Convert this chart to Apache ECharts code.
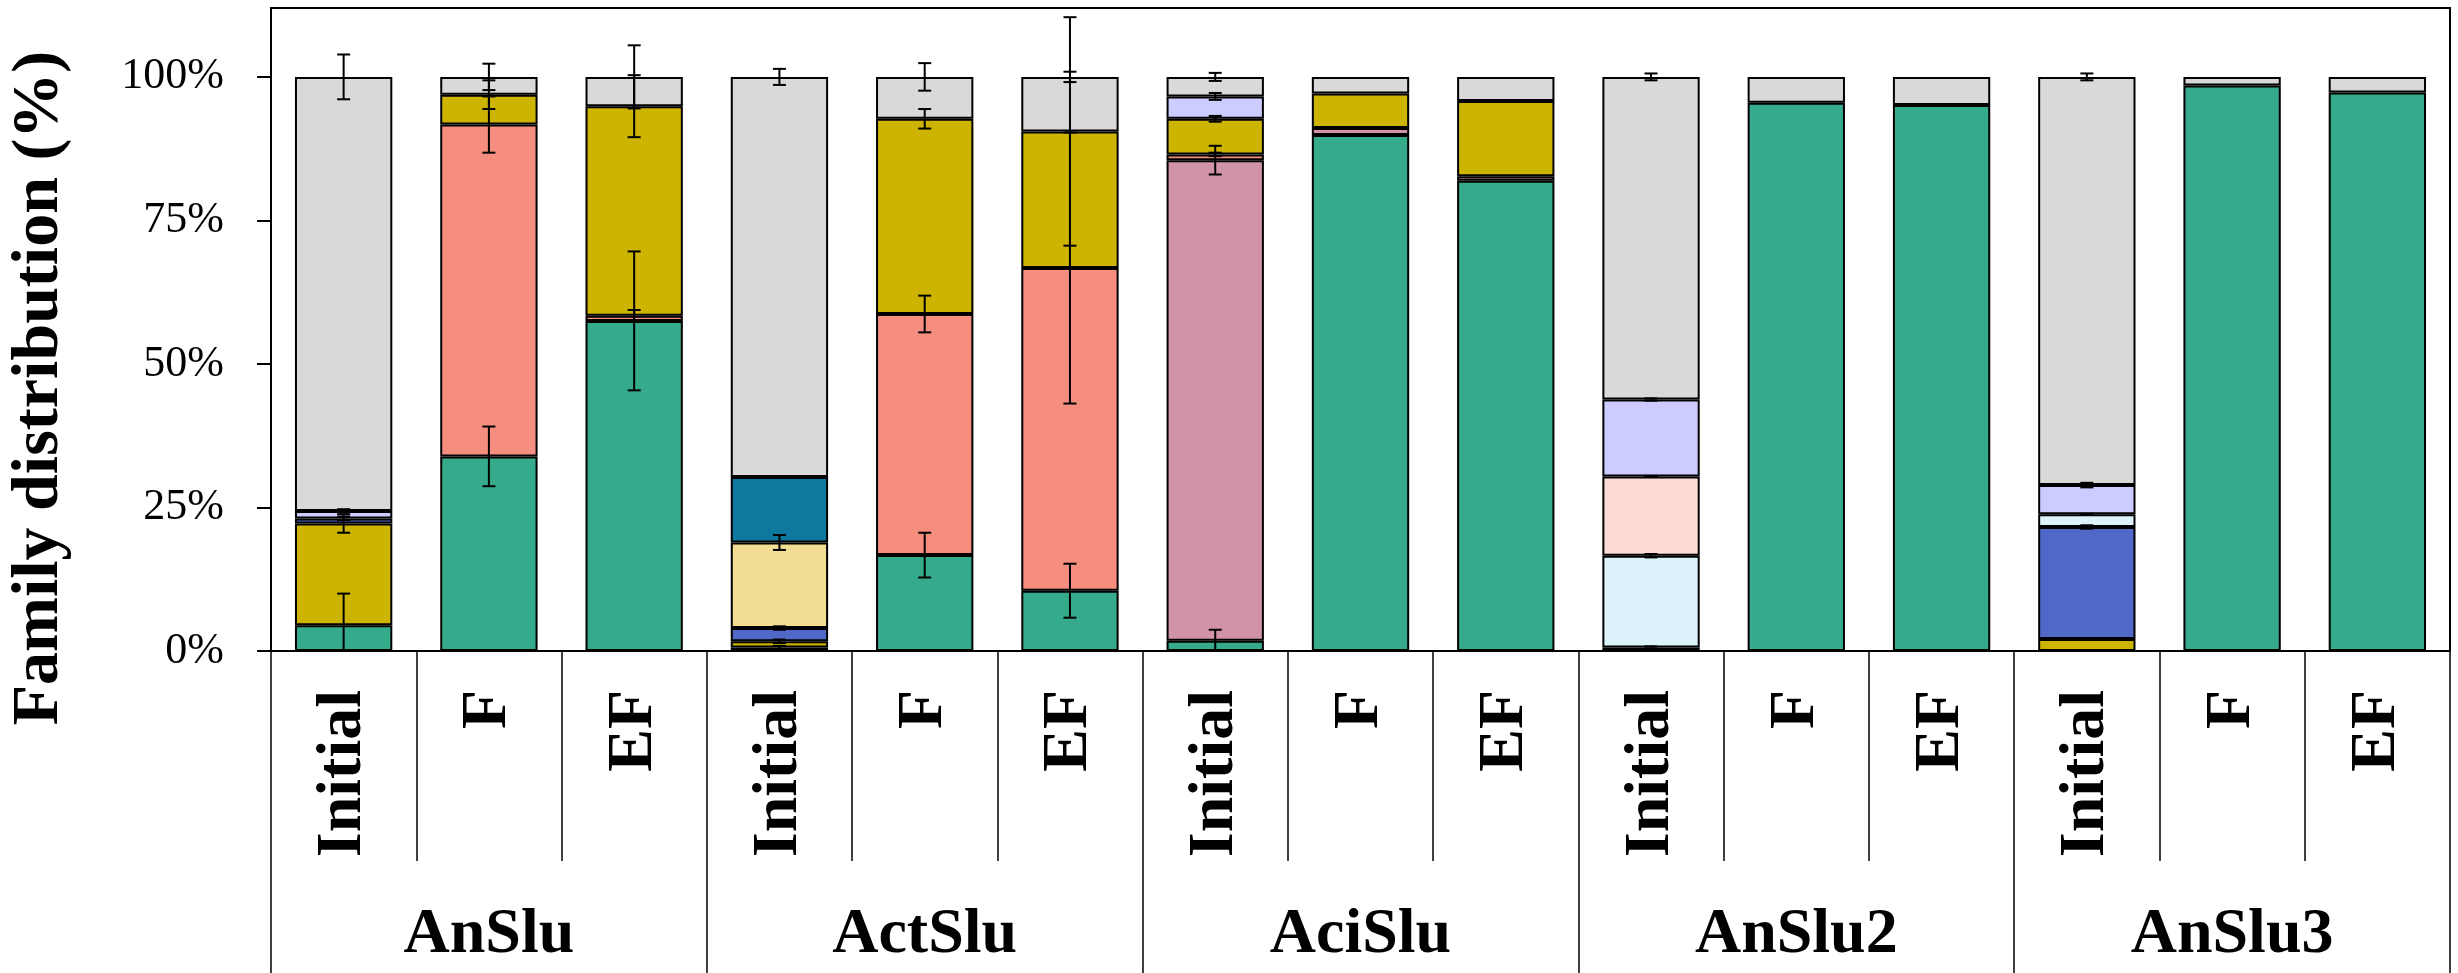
<!DOCTYPE html>
<html lang="en">
<head>
    <meta charset="UTF-8">
    <title>Family distribution</title>
    <script src="https://cdn.jsdelivr.net/npm/echarts@6/dist/echarts.min.js"></script>
    <style>
        html, body { margin: 0; padding: 0; background: #fff; }
    </style>
</head>
<body>
    <div id="myChart" style="width: 2458px;height: 973px;"></div>

    <script>
        // categories: 5 sludges x 3 stages
        const stages = ['Initial', 'F', 'EF', 'Initial', 'F', 'EF', 'Initial', 'F', 'EF', 'Initial', 'F', 'EF', 'Initial', 'F', 'EF'];
        const groups = ['AnSlu', 'ActSlu', 'AciSlu', 'AnSlu2', 'AnSlu3'];
        const yTicks = [0, 25, 50, 75, 100];

        // segment sizes (%), bottom to top
        const green    = [4.5, 33.9, 57.5, 0.6, 16.7, 10.5, 1.8, 89.9, 81.9, 0.6, 95.5, 95.1, 0, 98.5, 97.3];
        const pink     = [0, 0, 0, 0, 0, 0, 83.7, 1.2, 0.8, 0, 0, 0, 0, 0, 0];
        const salmon   = [0, 57.8, 0.9, 0, 42.0, 56.2, 1.0, 0, 0, 0, 0, 0, 0, 0, 0];
        const olive    = [17.7, 5.2, 36.5, 1.1, 34.0, 23.8, 6.2, 6.0, 13.1, 0, 0, 0, 2.1, 0, 0];
        const blue     = [0.9, 0, 0, 2.3, 0, 0, 0, 0, 0, 0, 0, 0, 19.5, 0, 0];
        const lyellow  = [0, 0, 0, 14.9, 0, 0, 0, 0, 0, 0, 0, 0, 0, 0, 0];
        const dteal    = [0, 0, 0, 11.4, 0, 0, 0, 0, 0, 0, 0, 0, 0, 0, 0];
        const lcyan    = [0, 0, 0, 0, 0, 0, 0, 0, 0, 16.0, 0, 0, 2.2, 0, 0];
        const lpink    = [0, 0, 0, 0, 0, 0, 0, 0, 0, 13.8, 0, 0, 0, 0, 0];
        const lavender = [1.3, 0, 0, 0, 0, 0, 3.9, 0, 0, 13.4, 0, 0, 5.1, 0, 0];
        const gray     = [75.6, 3.1, 5.1, 69.7, 7.3, 9.5, 3.4, 2.9, 4.2, 56.2, 4.5, 4.9, 71.1, 1.5, 2.7];

        // error (+/-) at the top of each segment, null = no bar
        const greenErr    = [5.5, 5.2, 12.1, 0.3, 3.9, 4.7, 1.9, null, null, 0.2, null, null, null, null, null];
        const pinkErr     = [null, null, null, null, null, null, 2.5, null, null, null, null, null, null, null, null];
        const salmonErr   = [null, 4.9, 1.0, null, 3.2, 23.6, 0.3, null, null, null, null, null, null, null, null];
        const oliveErr    = [1.6, 2.5, 5.4, 0.3, 1.7, 19.9, 0.5, null, null, null, null, null, null, null, null];
        const blueErr     = [0.3, null, null, 0.3, null, null, null, null, null, null, null, null, 0.3, null, null];
        const lyellowErr  = [null, null, null, 1.3, null, null, null, null, null, null, null, null, null, null, null];
        const dtealErr    = [null, null, null, null, null, null, null, null, null, null, null, null, null, null, null];
        const lcyanErr    = [null, null, null, null, null, null, null, null, null, 0.3, null, null, 0.1, null, null];
        const lpinkErr    = [null, null, null, null, null, null, null, null, null, 0.1, null, null, null, null, null];
        const lavenderErr = [0.3, null, null, null, null, null, 0.6, null, null, 0.2, null, null, 0.4, null, null];
        const grayErr     = [3.9, 2.3, 5.5, 1.4, 2.4, 0.9, 0.7, null, null, 0.6, null, null, 0.6, null, null];

        const families = [
            { name: 'F1', color: '#35AB8C', data: green, err: greenErr },
            { name: 'F2', color: '#D193A7', data: pink, err: pinkErr },
            { name: 'F3', color: '#F68E80', data: salmon, err: salmonErr },
            { name: 'F4', color: '#CDB400', data: olive, err: oliveErr },
            { name: 'F5', color: '#5068C8', data: blue, err: blueErr },
            { name: 'F6', color: '#F1DE93', data: lyellow, err: lyellowErr },
            { name: 'F7', color: '#0E789E', data: dteal, err: dtealErr },
            { name: 'F8', color: '#DDF3FB', data: lcyan, err: lcyanErr },
            { name: 'F9', color: '#FCDBD6', data: lpink, err: lpinkErr },
            { name: 'F10', color: '#CCCCFF', data: lavender, err: lavenderErr },
            { name: 'Others', color: '#D9D9D9', data: gray, err: grayErr }
        ];

        const serif = '"Liberation Serif", "Times New Roman", serif';

        // error bar points: [category index, stacked top, error]
        const errPoints = [];
        const running = stages.map(() => 0);
        families.forEach(f => {
            f.data.forEach((v, i) => {
                running[i] += v;
                if (f.err[i] != null) errPoints.push([i, running[i], f.err[i]]);
            });
        });

        const barSeries = families.map(f => ({
            name: f.name,
            type: 'bar',
            stack: 'total',
            barWidth: '67%',
            itemStyle: { color: f.color, borderColor: '#000', borderWidth: 2 },
            emphasis: { disabled: true },
            data: f.data.map(v => v === 0 ? '-' : v)
        }));

        const errSeries = {
            type: 'custom',
            clip: true,
            z: 10,
            data: errPoints,
            renderItem: function (params, api) {
                const x = api.value(0);
                const top = api.coord([x, api.value(1) + api.value(2)]);
                const bot = api.coord([x, api.value(1) - api.value(2)]);
                const hw = 6.5;
                const st = { stroke: '#000', lineWidth: 2 };
                return {
                    type: 'group',
                    children: [
                        { type: 'line', shape: { x1: top[0], y1: top[1], x2: bot[0], y2: bot[1] }, style: st },
                        { type: 'line', shape: { x1: top[0] - hw, y1: top[1], x2: top[0] + hw, y2: top[1] }, style: st },
                        { type: 'line', shape: { x1: bot[0] - hw, y1: bot[1], x2: bot[0] + hw, y2: bot[1] }, style: st }
                    ]
                };
            }
        };

        const chart = echarts.init(document.getElementById('myChart'));
        const option = {
            animation: false,
            backgroundColor: '#fff',
            textStyle: { fontFamily: serif, color: '#000' },
            grid: {
                left: 271, right: 8, top: 8, bottom: 322,
                containLabel: false,
                outerBoundsMode: 'none',
                show: true,
                borderColor: '#000',
                borderWidth: 2,
                backgroundColor: 'transparent'
            },
            tooltip: { show: false },
            xAxis: [
                {
                    type: 'category',
                    position: 'bottom',
                    data: stages,
                    boundaryGap: true,
                    axisLine: { show: true, lineStyle: { color: '#000', width: 2 } },
                    axisTick: { show: true, interval: 0, alignWithLabel: false, inside: false, length: 210, lineStyle: { color: '#000', width: 1.5 } },
                    axisLabel: {
                        interval: 0, rotate: 90, margin: 39,
                        fontFamily: serif, fontSize: 64, fontWeight: 'bold', color: '#000'
                    },
                    splitLine: { show: false }
                },
                {
                    type: 'category',
                    position: 'bottom',
                    data: groups,
                    boundaryGap: true,
                    axisLine: { show: false },
                    axisTick: { show: true, interval: 0, length: 322, lineStyle: { color: '#000', width: 1.5 } },
                    axisLabel: {
                        interval: 0, margin: 284, verticalAlign: 'middle',
                        fontFamily: serif, fontSize: 64, fontWeight: 'bold', color: '#000'
                    },
                    splitLine: { show: false }
                }
            ],
            yAxis: {
                type: 'value',
                min: 0,
                max: 112,
                interval: 25,
                axisLine: { show: true, lineStyle: { color: '#000', width: 2 } },
                axisTick: { show: true, inside: false, length: 14, customValues: yTicks, lineStyle: { color: '#000', width: 2 } },
                axisLabel: {
                    customValues: yTicks,
                    margin: 47,
                    formatter: v => v + '%',
                    fontFamily: serif, fontSize: 44, color: '#000'
                },
                splitLine: { show: false }
            },
            graphic: [{
                type: 'text',
                x: 40,
                y: 388,
                rotation: Math.PI / 2,
                style: {
                    text: 'Family distribution (%)',
                    x: 0, y: 0,
                    align: 'center',
                    verticalAlign: 'middle',
                    font: 'bold 66px ' + serif,
                    fill: '#000'
                }
            }],
            series: barSeries.concat([errSeries])
        };
        chart.setOption(option);
    </script>
</body>
</html>
